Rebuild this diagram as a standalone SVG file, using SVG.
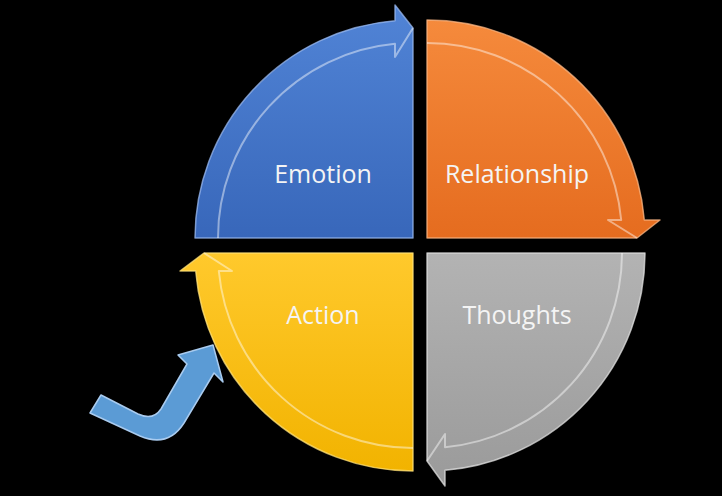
<svg xmlns="http://www.w3.org/2000/svg" width="722" height="496" viewBox="0 0 722 496">
  <defs>
    <linearGradient id="gBlue" x1="0" y1="0" x2="0" y2="1">
      <stop offset="0" stop-color="#5184d6"/>
      <stop offset="1" stop-color="#3867ba"/>
    </linearGradient>
    <linearGradient id="gOrange" x1="0" y1="0" x2="0" y2="1">
      <stop offset="0" stop-color="#f58a3c"/>
      <stop offset="1" stop-color="#e56c1f"/>
    </linearGradient>
    <linearGradient id="gGray" x1="0" y1="0" x2="0" y2="1">
      <stop offset="0" stop-color="#b3b3b3"/>
      <stop offset="1" stop-color="#9a9a9a"/>
    </linearGradient>
    <linearGradient id="gYellow" x1="0" y1="0" x2="0" y2="1">
      <stop offset="0" stop-color="#ffc92c"/>
      <stop offset="1" stop-color="#f2b300"/>
    </linearGradient>
  </defs>
  <style>
    .sector { stroke-width: 1.5; stroke-linejoin: round; stroke-opacity: 0.75; }
    .hl { fill: none; stroke: #ffffff; stroke-opacity: 0.45; stroke-width: 2; stroke-linejoin: round; }
    .lbl { font-family: "Open Sans", "Noto Sans", sans-serif; font-size: 25px; fill: #f4f4f4; text-anchor: middle; }
  </style>
  <rect x="0" y="0" width="722" height="496" fill="#000000"/>

  <g id="emotion">
    <path class="sector" fill="url(#gBlue)" stroke="#9ab8ee" d="M 413,238 L 195,238 A 218 218 0 0 1 395,20.7 L 395,5 L 413,28 Z"/>
    <path class="hl" d="M 218,238 A 195 195 0 0 1 395,43.8 L 395,57 L 413,28"/>
    <text class="lbl" x="323" y="183">Emotion</text>
  </g>

  <g id="relationship">
    <path class="sector" fill="url(#gOrange)" stroke="#f8b584" d="M 427,238 L 427,20 A 218 218 0 0 1 644.3,220 L 660,220 L 637,238 Z"/>
    <path class="hl" d="M 427,43 A 195 195 0 0 1 621.2,220 L 608,220 L 637,238"/>
    <text class="lbl" x="517" y="183">Relationship</text>
  </g>

  <g id="thoughts">
    <path class="sector" fill="url(#gGray)" stroke="#e0e0e0" d="M 427,253 L 645,253 A 218 218 0 0 1 445,470.3 L 445,486 L 427,461 Z"/>
    <path class="hl" d="M 622,253 A 195 195 0 0 1 445,447.2 L 445,434 L 427,461"/>
    <text class="lbl" x="517" y="324">Thoughts</text>
  </g>

  <g id="action">
    <path class="sector" fill="url(#gYellow)" stroke="#ffe27a" d="M 413,253 L 413,471 A 218 218 0 0 1 195.7,271 L 180,271 L 204,253 Z"/>
    <path class="hl" d="M 413,448 A 195 195 0 0 1 218.8,271 L 232,271 L 204,253"/>
    <text class="lbl" x="323" y="324">Action</text>
  </g>

  <g id="connectors">
    <path id="entry-arrow" fill="#5b9bd5" stroke="#a9cbef" stroke-width="1.5" stroke-linejoin="round"
      d="M 101,395 L 138,414 Q 153,421 161,409 L 187,364 L 178,355 L 213,345 L 223,382 L 214,373 L 184,423 Q 168,448 140,436 L 90,413 Z"/>
  </g>
</svg>
